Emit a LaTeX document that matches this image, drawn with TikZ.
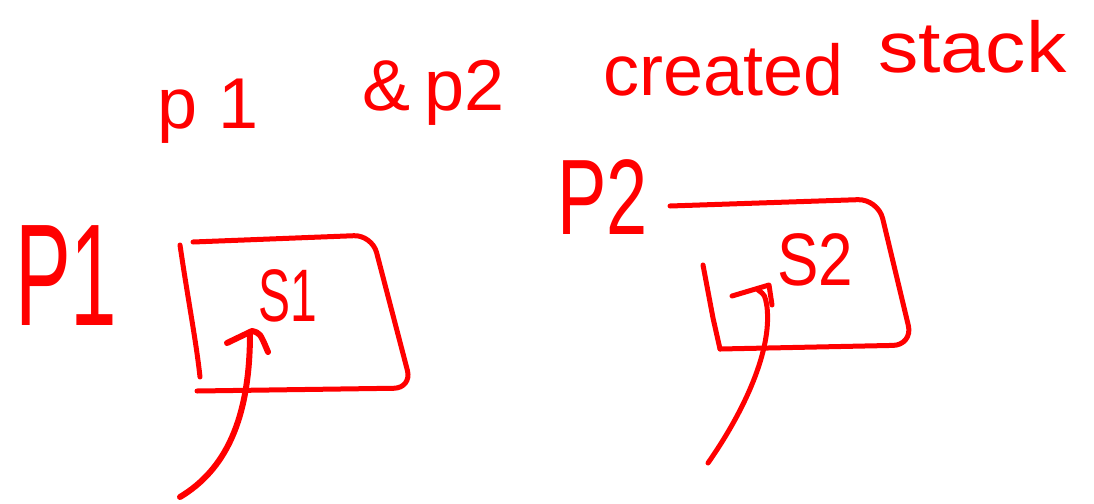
\documentclass[tikz,border=0pt]{standalone}
\usepackage{fontspec}
\setmainfont{Liberation Sans}
\begin{document}
\begin{tikzpicture}[x=1pt,y=-1pt,
  ink/.style={draw=red,line width=5pt,line cap=round,line join=round},
  thick ink/.style={ink,line width=6pt},
  label/.style={text=red,inner sep=0pt,anchor=base west},
  title/.style={label,font=\fontsize{72}{72}\selectfont}]
\useasboundingbox (0,0) rectangle (1094,503);

% heading, each word a little higher than the one before
\node[title] (t1) at (157,128) {p\hspace{0.3em}1};
\node[title] (t2) at (362,110) {\&\hspace{0.2em}p2};
\node[title] (t3) at (603,95) {created};
\node[title] (t4) at (878,72) {\scalebox{1.12}[1]{stack}};

% process labels
\node[label,font=\fontsize{88}{88}\selectfont] (p1) at (15,325) {\scalebox{0.95}[1.65]{P1}};
\node[label,font=\fontsize{74}{74}\selectfont] (p2) at (557,234) {\scalebox{1}[1.45]{P2}};

% stack of P1
\draw[ink] (180,245) .. controls (188,300) and (196,340) .. (200,377);
\draw[ink,rounded corners=18] (193,242) -- (372,235) -- (412,388) -- (197,391);
\node[label,font=\fontsize{48}{48}\selectfont] (s1) at (258,321) {\scalebox{1}[1.55]{S1}};

% stack of P2
\draw[ink] (703,265) -- (713,318) -- (720,349);
\draw[ink,rounded corners=20] (670,206) -- (878,199) -- (913,345) -- (720,349);
\node[label,font=\fontsize{62}{62}\selectfont] (s2) at (777,285) {\scalebox{1}[1.2]{S2}};

% pointers into the stacks
\coordinate (a1s) at (180,497);
\coordinate (a1t) at (250,333);
\draw[thick ink] (a1s) .. controls (225,470) and (250,420) .. (a1t);
\draw[thick ink] (227,343) -- (252,331) .. controls (260,333) .. (268,352);

\coordinate (a2s) at (708,463);
\coordinate (a2t) at (758,290);
\draw[ink] (a2s) .. controls (745,410) and (772,350) .. (767,307) .. controls (765,295) .. (a2t);
\draw[ink] (732,296) -- (769,285) -- (772,305);
\end{tikzpicture}
\end{document}
